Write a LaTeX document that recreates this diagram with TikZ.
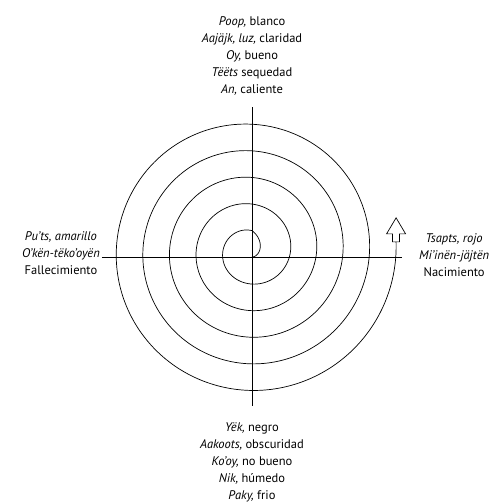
\documentclass[tikz,border=0pt]{standalone}
\usepackage{fontspec}
\setmainfont{PT Sans}
\usetikzlibrary{positioning}

\tikzset{
  words/.style={align=center, inner sep=0pt, font=\fontsize{12.5}{17}\selectfont},
  axis/.style={line width=0.6pt},
  spiral/.style={line width=0.7pt}
}

\begin{document}
\begin{tikzpicture}[x=1pt, y=1pt,
    declare function={spr(\t)=0.0739*\t+min(1,\t/90)*(13.4-2.65*cos(\t)+6.3*sin(\t));}]

    \useasboundingbox (-252,-247) rectangle (250,257);

    \coordinate (O) at (0,0);
    \coordinate (N) at (0,150);
    \coordinate (S) at (0,-149);
    \coordinate (W) at (-150,0);
    \coordinate (E) at (150,0);

    \draw[axis] (N) -- (S);
    \draw[axis] (W) -- (E);

    \draw[spiral] plot[domain=0:1806, samples=700, smooth] (\x:{spr(\x)});
    \coordinate (tail) at (1806:{spr(1806)});

    \draw[spiral] (tail) -- ++(3.5,0) -- ++(0,8) -- ++(6,0) -- ++(-9.5,16)
        -- ++(-9.5,-16) -- ++(6,0) -- ++(0,-8) -- cycle;

    \node[words, above=11pt of N] (dry) {\textit{Poop,} blanco\\
        \textit{Aajäjk, luz,} claridad\\ \textit{Oy,} bueno\\
        \textit{Tëëts} sequedad\\ \textit{An,} caliente};
    \node[words, below=16pt of S] (wet) {\textit{Yëk,} negro\\
        \textit{Aakoots,} obscuridad\\ \textit{Ko’oy,} no bueno\\
        \textit{Nik,} húmedo\\ \textit{Paky,} frio};
    \node[words, left=2pt of W, yshift=4pt] (death) {\textit{Pu’ts, amarillo}\\
        \textit{O’kën-tëko’oyën}\\ Fallecimiento};
    \node[words, right=17pt of E, yshift=2pt] (birth) {\textit{Tsapts, rojo}\\
        \textit{Mi’inën-jäjtën}\\ Nacimiento};

\end{tikzpicture}
\end{document}
